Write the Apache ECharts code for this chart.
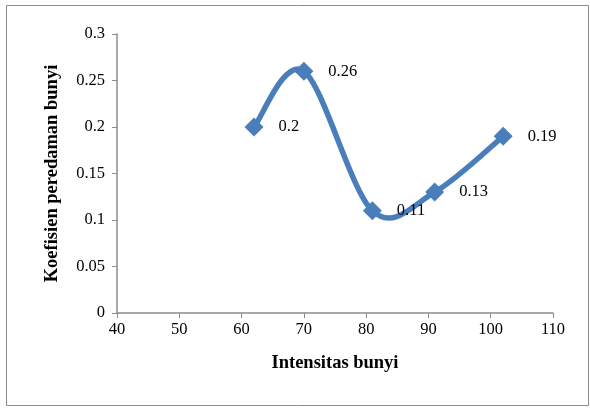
<!DOCTYPE html>
<html>
<head>
<meta charset="utf-8">
<script src="https://cdn.jsdelivr.net/npm/echarts@6/dist/echarts.min.js"></script>
<style>
  html, body { margin: 0; padding: 0; background: #fff; }
  #chart { width: 590px; height: 408px; }
</style>
</head>
<body>
<div id="chart"></div>
<script>
const intensity = [62, 70, 81, 91, 102];
const coefficient = [0.2, 0.26, 0.11, 0.13, 0.19];

const serif = "Liberation Serif, Times New Roman, serif";
const blue = "#4a7ebb";

const pairs = intensity.map((x, i) => [x, coefficient[i]]);

// spreadsheet-style smoothed segment between point i and i+1
function smoothSegment(params, api) {
  const i = params.dataIndex;
  const n = pairs.length;
  if (i >= n - 1) return null;
  const at = k => api.coord(pairs[Math.max(0, Math.min(n - 1, k))]);
  const p0 = at(i - 1), p1 = at(i), p2 = at(i + 1), p3 = at(i + 2);
  return {
    type: "bezierCurve",
    shape: {
      x1: p1[0], y1: p1[1],
      x2: p2[0], y2: p2[1],
      cpx1: p1[0] + (p2[0] - p0[0]) / 6,
      cpy1: p1[1] + (p2[1] - p0[1]) / 6,
      cpx2: p2[0] - (p3[0] - p1[0]) / 6,
      cpy2: p2[1] - (p3[1] - p1[1]) / 6
    },
    style: { stroke: blue, lineWidth: 5.5, fill: "none", lineCap: "round" }
  };
}

const chart = echarts.init(document.getElementById("chart"));
chart.setOption({
  animation: false,
  graphic: [
    {
      type: "rect",
      shape: { x: 6.5, y: 5.5, width: 582, height: 400 },
      style: { fill: "none", stroke: "#8c8c8c", lineWidth: 1 }
    }
  ],
  grid: { left: 117, right: 37, top: 34, bottom: 95 },
  xAxis: {
    type: "value",
    min: 40,
    max: 110,
    interval: 10,
    name: "Intensitas bunyi",
    nameLocation: "middle",
    nameGap: 41,
    nameTextStyle: { fontFamily: serif, fontSize: 18.5, fontWeight: "bold", color: "#000" },
    axisLine: { lineStyle: { color: "#8c8c8c", width: 1.5 } },
    axisTick: { show: true, length: 5, lineStyle: { color: "#8c8c8c" } },
    axisLabel: { fontFamily: serif, fontSize: 16.5, color: "#000", margin: 8 },
    splitLine: { show: false }
  },
  yAxis: {
    type: "value",
    min: 0,
    max: 0.3,
    interval: 0.05,
    name: "Koefisien peredaman bunyi",
    nameLocation: "middle",
    nameGap: 55,
    nameTextStyle: { fontFamily: serif, fontSize: 18.5, fontWeight: "bold", color: "#000" },
    axisLine: { show: true, lineStyle: { color: "#8c8c8c", width: 1.5 } },
    axisTick: { show: true, length: 5, lineStyle: { color: "#8c8c8c" } },
    axisLabel: { fontFamily: serif, fontSize: 16.5, color: "#000", margin: 12 },
    splitLine: { show: false }
  },
  series: [
    {
      type: "custom",
      data: pairs,
      encode: { x: 0, y: 1 },
      renderItem: smoothSegment,
      z: 2
    },
    {
      type: "scatter",
      data: pairs,
      symbol: "diamond",
      symbolSize: 19,
      itemStyle: { color: blue, opacity: 1 },
      z: 3,
      label: {
        show: true,
        position: "right",
        distance: 15,
        fontFamily: serif,
        fontSize: 16.5,
        color: "#000",
        formatter: p => String(p.value[1])
      }
    }
  ]
});
</script>
</body>
</html>
